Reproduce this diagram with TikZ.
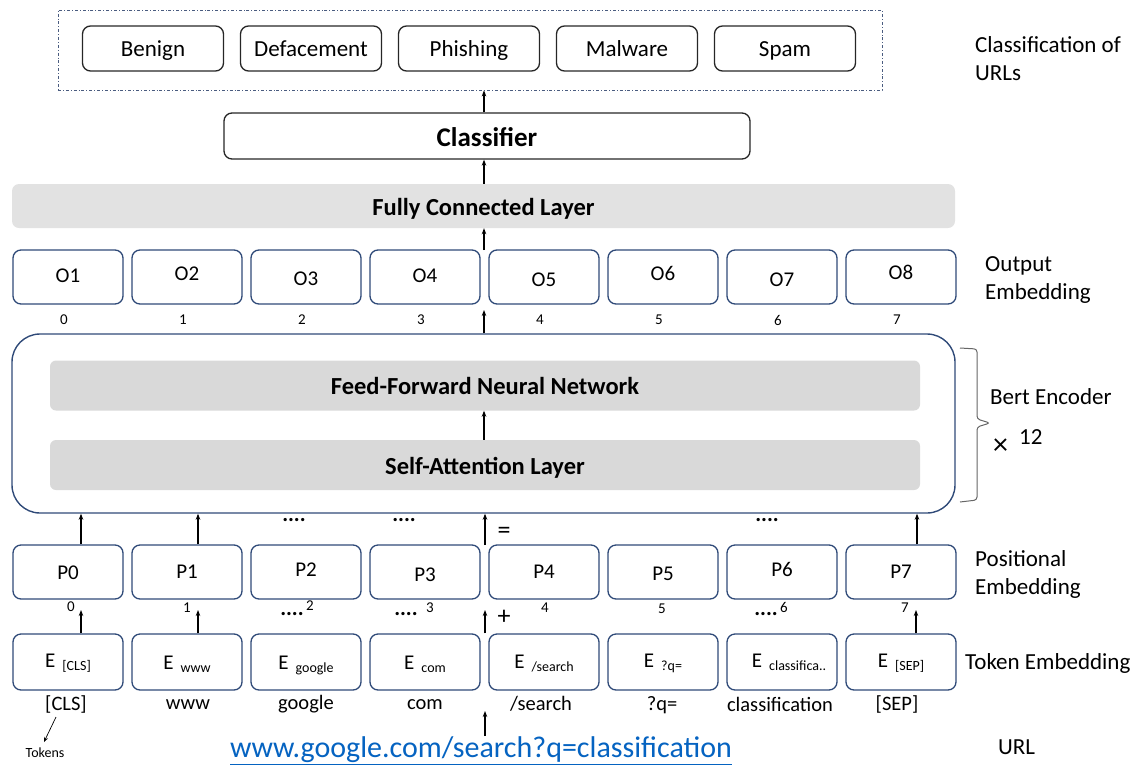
\documentclass[tikz,border=0pt]{standalone}
\usepackage{fontspec}
\setmainfont{Carlito}
\usetikzlibrary{arrows.meta,calc}
\definecolor{navy}{HTML}{2F4A78}
\definecolor{boxgray}{HTML}{262626}
\definecolor{layerfill}{HTML}{D9D9D9}
\definecolor{fcfill}{HTML}{E2E2E2}
\definecolor{dashblue}{HTML}{4A5C80}
\definecolor{urlblue}{HTML}{0563C1}
\newcommand\fsz[1]{\fontsize{#1}{#1}\selectfont}
\newcommand\Eb[1]{E\hspace{7pt}\raisebox{-3pt}{\fsz{14}#1}}
\begin{document}
\begin{tikzpicture}[x=1pt,y=-1pt,
  capcenter/.style={text height=#1,text depth=0pt},
  classbox/.style={draw=boxgray,line width=1.3pt,rounded corners=8pt,minimum width=141pt,minimum height=45pt,inner sep=0pt,font=\fsz{23},capcenter=16.4pt},
  embox/.style={draw=navy,line width=1.3pt,rounded corners=8pt,minimum width=110pt,minimum height=54pt,inner sep=0pt,font=\fsz{21},capcenter=15.4pt},
  layer/.style={fill=layerfill,rounded corners=6pt,minimum width=870pt,minimum height=50pt,inner sep=0pt,font=\bfseries\fsz{24.5},capcenter=18pt},
  idx/.style={font=\fsz{15},inner sep=0pt},
  tok/.style={font=\fsz{20.5},inner sep=0pt},
  side/.style={font=\fontsize{23}{28}\selectfont,align=left,anchor=west,inner sep=0pt},
  arr/.style={-{Stealth[length=6pt,width=4.5pt]},line width=1.1pt,black},
  dots/.style={font=\bfseries\fsz{22},inner sep=0pt}]
\useasboundingbox (0,0) rectangle (1141,769);

% ---- classes ----
\node[draw=dashblue,line width=0.8pt,dash dot,minimum width=824pt,minimum height=80pt,inner sep=0pt] (dbox) at (470,50) {};
\node[classbox] (benign) at (153,48.5) {Benign};
\node[classbox] (deface) at (311,48.5) {Defacement};
\node[classbox] (phish) at (469,48.5) {Phishing};
\node[classbox] (malw) at (627,48.5) {Malware};
\node[classbox] (spam) at (785,48.5) {Spam};
\node[side] (lblcls) at (975,59) {Classification of\\URLs};

% ---- classifier and fully connected layer ----
\node[draw=boxgray,line width=1.3pt,rounded corners=8pt,minimum width=526pt,minimum height=46pt,inner sep=0pt,font=\bfseries\fsz{27},capcenter=20pt] (clsf) at (487,136) {Classifier};
\node[fill=fcfill,rounded corners=7pt,minimum width=943pt,minimum height=44pt,inner sep=0pt,font=\bfseries\fsz{24.5},capcenter=18.4pt] (fc) at (483.5,206) {Fully Connected Layer};
\coordinate (mx) at (484,0);

% ---- output embedding ----
\foreach \i/\t/\dy in {0/O1/2,1/O2/4,2/O3/-1,3/O4/2,4/O5/-2,5/O6/4,6/O7/-2,7/O8/5}{
  \node[embox] (o\i) at (68+119*\i,277) {\raisebox{\dy pt}{\t}};
  \node[idx] (oi\i) at (64+119*\i,320) {\i};
}
\node[side] (lblout) at (985,280) {Output\\Embedding};

% ---- encoder ----
\node[draw=navy,line width=1.4pt,rounded corners=28pt,minimum width=943pt,minimum height=179pt,inner sep=0pt] (enc) at (483.5,423.5) {};
\node[layer] (ff) at (485,385.5) {Feed-Forward Neural Network};
\node[layer] (sa) at (485,465) {Self-Attention Layer};
\draw[line width=1pt,gray!80!black,rounded corners=3pt] (960,348) -- (977,349) -- (977,419) -- (990,423) -- (977,427) -- (977,500) -- (960,502);
\node[side] (lblbert) at (990,397) {Bert Encoder};
\node[side,font=\fsz{30}] (times) at (993,447) {×};
\node[side] (twelve) at (1019,437) {12};

% ---- positional embedding ----
\foreach \i/\dy in {0/0,1/1,2/3,3/-2,4/1,5/-1,6/3,7/1}{
  \node[embox] (p\i) at (68+119*\i,572) {\raisebox{\dy pt}{P\i}};
}
\node[side] (lblpos) at (975,574) {Positional\\Embedding};
\node[idx] (pi0) at (71,607) {0};
\node[idx] (pi1) at (187,608) {1};
\node[idx] (pi2) at (310,606) {2};
\node[idx] (pi3) at (430,608) {3};
\node[idx] (pi4) at (545,608) {4};
\node[idx] (pi5) at (662,609) {5};
\node[idx] (pi6) at (784,607) {6};
\node[idx] (pi7) at (905,608) {7};
\node[dots] (d1) at (294,520) {....};
\node[dots] (d2) at (404,520) {....};
\node[dots] (d3) at (767,520) {....};
\node[dots] (d4) at (292,614) {....};
\node[dots] (d5) at (406,614) {....};
\node[dots] (d6) at (766,614) {....};
\node[font=\fsz{26},inner sep=0pt] (eq) at (504,533) {=};
\node[font=\fsz{26},inner sep=0pt] (plus) at (504,617) {+};

% ---- token embedding ----
\node[embox,minimum height=56pt] (e0) at (68,662) {\raisebox{2pt}{\Eb{[CLS]}}};
\node[embox,minimum height=56pt] (e1) at (187,662) {\Eb{www}};
\node[embox,minimum height=56pt] (e2) at (306,662) {\Eb{google}};
\node[embox,minimum height=56pt] (e3) at (425,662) {\Eb{com}};
\node[embox,minimum height=56pt] (e4) at (544,662) {\raisebox{1pt}{\Eb{/search}}};
\node[embox,minimum height=56pt] (e5) at (663,662) {\raisebox{2pt}{\Eb{?q=}}};
\node[embox,minimum height=56pt] (e6) at (782,662) {\raisebox{2pt}{\hspace{14pt}\Eb{classifica..}}};
\node[embox,minimum height=56pt] (e7) at (901,662) {\raisebox{2pt}{\Eb{[SEP]}}};
\node[side] (lbltok) at (965,663) {Token Embedding};

\node[tok] (t0) at (66,704) {[CLS]};
\node[tok] (t1) at (188,705) {www};
\node[tok] (t2) at (306,704) {google};
\node[tok] (t3) at (425,705) {com};
\node[tok] (t4) at (541,704) {/search};
\node[tok] (t5) at (662,705) {?q=};
\node[tok] (t6) at (780,704) {classification};
\node[tok] (t7) at (897,704) {[SEP]};

\node[font=\fsz{14},inner sep=0pt] (tokens) at (45,753) {Tokens};
\node[font=\fsz{30},text=urlblue,inner sep=1pt] (url) at (481,751) {\underline{www.google.com/search?q=classification}};
\node[side] (lblurl) at (998,747) {URL};

% ---- connectors ----
\draw[arr] (clsf.north -| mx) -- (dbox.south -| mx);
\draw[arr] (fc.north -| mx) -- (clsf.south -| mx);
\coordinate (otop) at (484,250);
\draw[arr] (otop) -- (fc.south -| otop);
\coordinate (obot) at (484,310);
\draw[arr] (enc.north -| obot) -- (obot);
\draw[arr] (sa.north -| mx) -- (ff.south -| mx);

\draw[arr] ([xshift=13pt]p0.north) -- ([xshift=13pt]p0.north |- enc.south);
\draw[arr] ([xshift=11pt]p1.north) -- ([xshift=11pt]p1.north |- enc.south);
\draw[arr] ([xshift=16pt]p7.north) -- ([xshift=16pt]p7.north |- enc.south);
\coordinate (ptop) at (485,545);
\draw[arr] (ptop) -- (enc.south -| ptop);

\coordinate (pb0) at (81,610);
\coordinate (pb1) at (198,610);
\coordinate (pb4) at (485,610);
\coordinate (pb7) at (916,610);
\draw[arr] (e0.north -| pb0) -- (pb0);
\draw[arr] (e1.north -| pb1) -- (pb1);
\draw[arr] (e3.north east -| pb4) -- (pb4);
\draw[arr] (e7.north -| pb7) -- (pb7);

\coordinate (ua) at (485,736);
\coordinate (ub) at (485,711);
\draw[arr] (ua) -- (ub);
\coordinate (ta) at (56,717);
\coordinate (tb) at (44,742);
\draw[-{Stealth[length=5pt,width=4pt]},line width=0.7pt] (ta) -- (tb);
\end{tikzpicture}
\end{document}
